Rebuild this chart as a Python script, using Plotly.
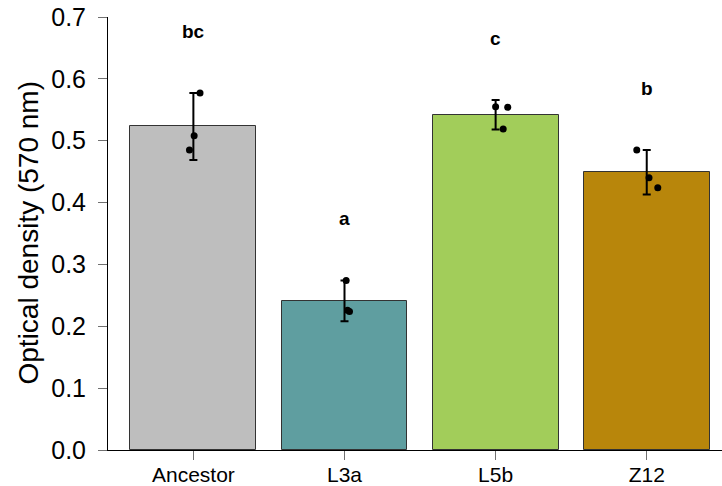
import plotly.graph_objects as go

categories = ["Ancestor", "L3a", "L5b", "Z12"]
means = [0.523, 0.241, 0.542, 0.449]
errors = [0.054, 0.033, 0.024, 0.036]
replicates = [
    [0.577, 0.508, 0.485],
    [0.274, 0.224, 0.226],
    [0.555, 0.554, 0.519],
    [0.485, 0.440, 0.424],
]
point_jitter = [
    [0.044, 0.005, -0.026],
    [0.011, 0.033, 0.020],
    [0.000, 0.080, 0.050],
    [-0.066, 0.015, 0.073],
]
letters = ["bc", "a", "c", "b"]
bar_colors = ["#BEBEBE", "#5F9EA0", "#A2CD5A", "#B8860B"]
y_ticks = [0.0, 0.1, 0.2, 0.3, 0.4, 0.5, 0.6, 0.7]

FONT = "Liberation Sans, Arial, sans-serif"
xpos = list(range(len(categories)))

fig = go.Figure()
fig.add_trace(go.Bar(
    x=xpos, y=means, width=0.833,
    marker=dict(color=bar_colors, line=dict(color="#333333", width=1)),
    error_y=dict(type="data", array=errors, visible=True,
                 color="black", thickness=2, width=4),
    showlegend=False, hoverinfo="skip",
))

px_, py_ = [], []
for i, vals in enumerate(replicates):
    for j, v in enumerate(vals):
        px_.append(xpos[i] + point_jitter[i][j])
        py_.append(v)
fig.add_trace(go.Scatter(
    x=px_, y=py_, mode="markers",
    marker=dict(color="black", size=7),
    showlegend=False, hoverinfo="skip",
))

for i, lab in enumerate(letters):
    fig.add_annotation(
        x=xpos[i], y=means[i] + errors[i] + 0.1, text="<b>%s</b>" % lab,
        showarrow=False, xanchor="center", yanchor="middle",
        font=dict(family=FONT, size=19, color="black"),
    )

fig.add_annotation(
    x=0, xref="paper", y=0.5, yref="paper", xshift=-80,
    text="Optical density (570 nm)", textangle=-90, showarrow=False,
    xanchor="center", yanchor="middle",
    font=dict(family=FONT, size=28, color="black"),
)

fig.update_layout(
    width=722, height=486,
    margin=dict(l=108, r=0, t=17, b=36, pad=0),
    paper_bgcolor="white", plot_bgcolor="white",
    bargap=0,
    xaxis=dict(
        range=[-0.565, 3.498], tickmode="array", tickvals=xpos,
        ticktext=categories, showline=True, linecolor="black", linewidth=1,
        ticks="outside", ticklen=9, tickcolor="#707070", tickwidth=1,
        showgrid=False, zeroline=False, automargin=False,
        ticklabelstandoff=-3,
        tickfont=dict(family=FONT, size=21, color="black"),
    ),
    yaxis=dict(
        range=[0, 0.7], tickmode="array", tickvals=y_ticks,
        ticktext=["%.1f" % t for t in y_ticks],
        showline=True, linecolor="black", linewidth=1,
        ticks="outside", ticklen=9, tickcolor="#707070", tickwidth=1,
        showgrid=False, zeroline=False, ticklabelstandoff=7, automargin=False,
        tickfont=dict(family=FONT, size=25, color="black"),
    ),
)

fig.write_html("out.html")
